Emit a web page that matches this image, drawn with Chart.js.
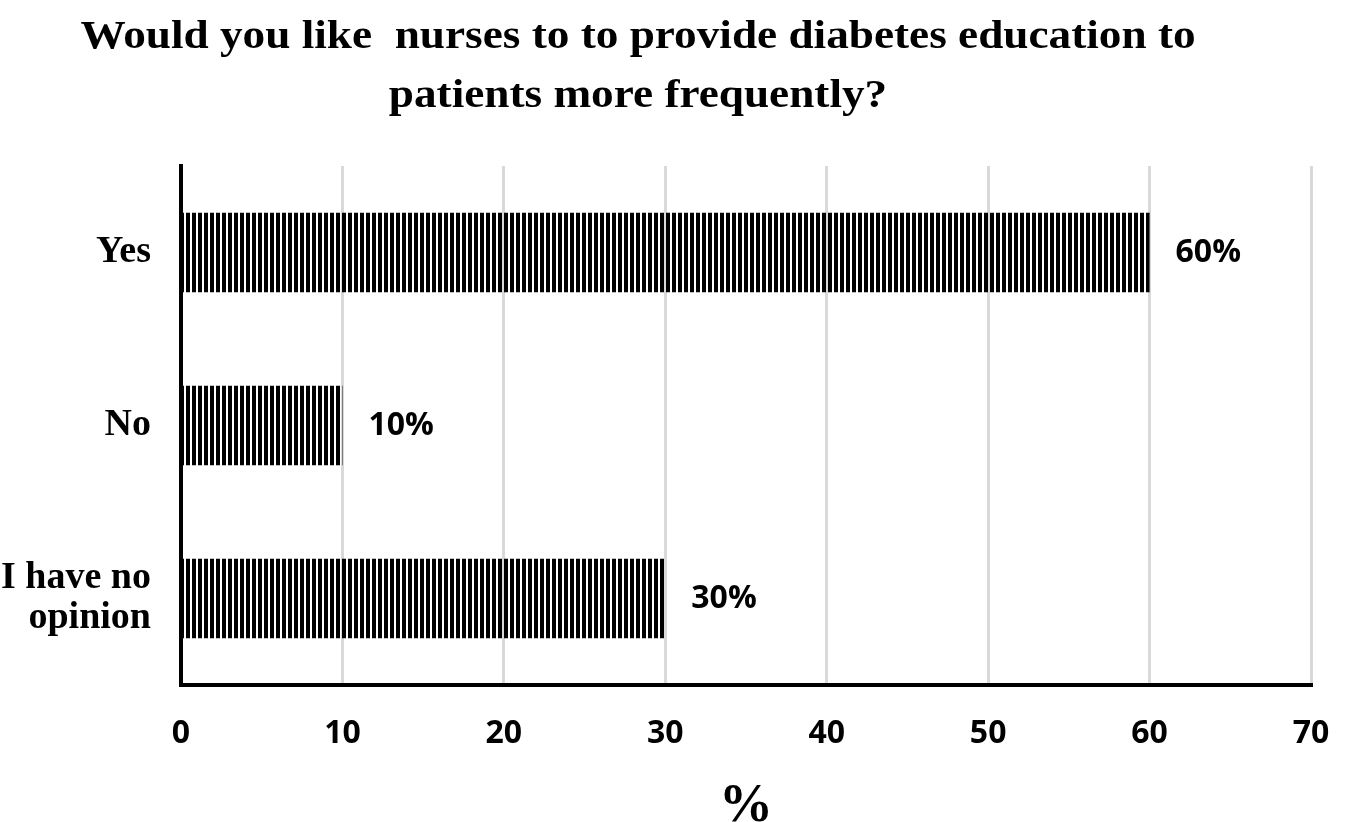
<!DOCTYPE html>
<html>
<head>
<meta charset="utf-8">
<script src="https://cdn.jsdelivr.net/npm/chart.js@4.4.1/dist/chart.umd.min.js"></script>
<style>
  html, body { margin: 0; padding: 0; background: #ffffff; }
  #wrap { width: 1351px; height: 822px; }
</style>
</head>
<body>
<div id="wrap"><canvas id="c" width="1351" height="822"></canvas></div>
<script>
// ---- Data ----
const titleLines = ["Would you like  nurses to to provide diabetes education to", "patients more frequently?"];
const categories = ["Yes", "No", ["I have no", "opinion"]];
const percentValues = [60, 10, 30];
const xTickMin = 0;
const xTickMax = 70;
const xTickStep = 10;
const xAxisTitle = "%";

// ---- Stripe pattern ----
function makeStripes() {
  const p = document.createElement('canvas');
  p.width = 6; p.height = 4;
  const g = p.getContext('2d');
  g.fillStyle = '#000000';
  g.fillRect(0, 0, 4, 4);
  return g.createPattern(p, 'repeat');
}
const ctx = document.getElementById('c').getContext('2d');
const stripes = makeStripes();

const serif = '"Liberation Serif", "Times New Roman", serif';
const sans = '"Open Sans", "Noto Sans", sans-serif';

const titlePlugin = {
  id: 'customTitle',
  afterDraw(chart) {
    const c = chart.ctx;
    c.save();
    c.fillStyle = '#000';
    c.font = 'bold 39px ' + serif;
    c.textAlign = 'center';
    c.textBaseline = 'alphabetic';
    const ys = [48, 107];
    titleLines.forEach((t, i) => {
      c.save();
      c.translate(638, ys[i]);
      c.scale(1.16, 1);
      c.fillText(t, 0, 0);
      c.restore();
    });
    c.restore();
  }
};

const valueLabels = {
  id: 'valueLabels',
  afterDatasetsDraw(chart) {
    const c = chart.ctx;
    const meta = chart.getDatasetMeta(0);
    c.save();
    c.fillStyle = '#000';
    c.font = 'bold 32px ' + sans;
    c.textAlign = 'left';
    c.textBaseline = 'middle';
    meta.data.forEach((bar, i) => {
      c.fillText(percentValues[i] + '%', bar.x + 26, bar.y);
    });
    c.restore();
  }
};

new Chart(ctx, {
  type: 'bar',
  data: {
    labels: categories,
    datasets: [{
      data: percentValues,
      backgroundColor: stripes,
      borderWidth: 0,
      categoryPercentage: 1.0,
      barPercentage: 0.46
    }]
  },
  options: {
    indexAxis: 'y',
    responsive: false,
    devicePixelRatio: 1,
    animation: false,
    layout: { padding: { top: 166, right: 40, left: 0, bottom: 0 } },
    plugins: {
      legend: { display: false },
      title: { display: false },
      tooltip: { enabled: false }
    },
    scales: {
      x: {
        min: xTickMin,
        max: xTickMax,
        ticks: {
          stepSize: xTickStep,
          color: '#000',
          font: { family: sans, size: 32, weight: 'bold' },
          padding: 2
        },
        grid: { color: '#d9d9d9', lineWidth: 3, drawTicks: true, tickLength: 28, tickColor: 'rgba(0,0,0,0)' },
        border: { color: '#000', width: 4 },
        title: {
          display: true,
          text: xAxisTitle,
          color: '#000',
          font: { family: serif, size: 54, weight: 'bold', lineHeight: 1 },
          padding: { top: 0, bottom: -12 }
        },
        afterFit(s) { s.height = 137; }
      },
      y: {
        ticks: {
          color: '#000',
          font: { family: serif, size: 38, weight: 'bold', lineHeight: 1.05 },
          padding: 30
        },
        grid: { display: false, drawTicks: false },
        border: { color: '#000', width: 4 },
        afterFit(s) { s.width = 181; }
      }
    }
  },
  plugins: [titlePlugin, valueLabels]
});
</script>
</body>
</html>
